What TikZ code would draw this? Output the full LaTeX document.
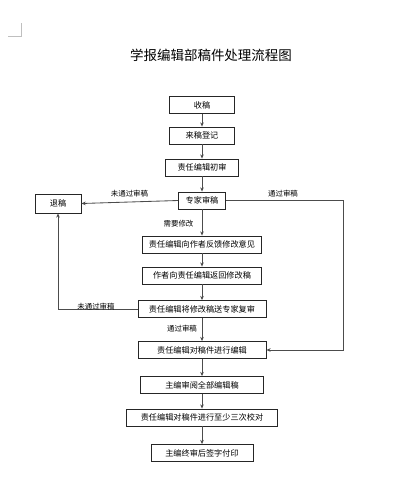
\documentclass[tikz,border=0pt]{standalone}
\usepackage{fontspec}
\setmainfont{Noto Sans CJK SC}
\usetikzlibrary{arrows.meta}

\begin{document}
\begin{tikzpicture}[
    x=0.025cm, y=-0.025cm,
    box/.style={draw=black!85, fill=white, minimum width=#1, minimum height=0.425cm,
                inner sep=1pt, font=\fontsize{5.8}{6}\selectfont, line width=0.6pt},
    arrow/.style={draw=black!70, line width=0.6pt, -{Stealth[length=3pt,width=2.6pt]}},
    lbl/.style={font=\fontsize{5.3}{6}\selectfont, inner sep=0pt},
]
\useasboundingbox (0,0) rectangle (400,500);

% Seitenmarke
\draw[black!25, line width=0.4pt] (8,36) -- (21.5,36) -- (21.5,23);

% Titel
\node[font=\fontsize{9.6}{11}\selectfont] (title) at (211,55.5) {学报编辑部稿件处理流程图};

% Hauptspalte
\node[box=1.625cm] (receive)  at (202,105) {收稿};
\node[box=1.625cm] (register) at (202,135.5) {来稿登记};
\node[box=1.825cm] (first)    at (202,167.5) {责任编辑初审};
\node[box=1.175cm] (expert)   at (202,200.5) {专家审稿};
\node[box=2.975cm] (feedback) at (202,244.5) {责任编辑向作者反馈修改意见};
\node[box=2.975cm] (revised)  at (202,275.5) {作者向责任编辑返回修改稿};
\node[box=3.2cm]   (recheck)  at (202,309) {责任编辑将修改稿送专家复审};
\node[box=3.2cm]   (edit)     at (202,350) {责任编辑对稿件进行编辑};
\node[box=3.075cm] (chief)    at (202,385) {主编审阅全部编辑稿};
\node[box=3.775cm] (proof)    at (202,417.5) {责任编辑对稿件进行至少三次校对};
\node[box=2.55cm]  (print)    at (202,453) {主编终审后签字付印};

% Links: Ablehnung
\node[box=1.15cm, minimum height=0.475cm] (reject) at (58,203.5) {退稿};

% Pfeile
\draw[arrow] (receive) -- (register);
\draw[arrow] (register) -- (first);
\draw[arrow] (first) -- (expert);
\draw[arrow] (expert) -- (feedback);
\draw[arrow] (feedback) -- (revised);
\draw[arrow] (revised) -- (recheck);
\draw[arrow] (recheck) -- (edit);
\draw[arrow] (edit) -- (chief);
\draw[arrow] (chief) -- (proof);
\draw[arrow] (proof) -- (print);

\draw[arrow] (expert.west) -- (reject.east);
\draw[arrow] (expert.east) -- ++(117.5,0) |- (edit.east);
\draw[arrow] (recheck.west) -| (reject.south);

% Beschriftungen
\node[lbl] (l1) at (129.5,193.5) {未通过审稿};
\node[lbl] (l2) at (283,193.5) {通过审稿};
\node[lbl] (l3) at (178.5,224) {需要修改};
\node[lbl] (l4) at (96,307) {未通过审稿};
\node[lbl] (l5) at (182,328.5) {通过审稿};

\end{tikzpicture}
\end{document}
